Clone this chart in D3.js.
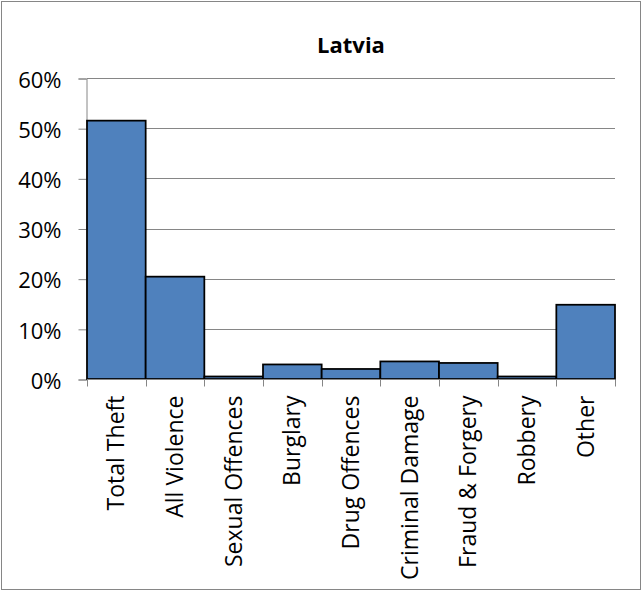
<!DOCTYPE html>
<html>
<head>
<meta charset="utf-8">
<script src="https://cdn.jsdelivr.net/npm/d3@7/dist/d3.min.js"></script>
<style>
  html, body { margin: 0; padding: 0; background: #fff; }
  svg { display: block; }
  text { font-family: "Open Sans", "Noto Sans", sans-serif; fill: #000; }
</style>
</head>
<body>
<script>
// Share of recorded offences by category
const categories = ["Total Theft", "All Violence", "Sexual Offences", "Burglary", "Drug Offences",
                    "Criminal Damage", "Fraud & Forgery", "Robbery", "Other"];
const values = [0.515, 0.204, 0.005, 0.029, 0.020, 0.035, 0.032, 0.005, 0.148];
const yTicks = [0, 0.1, 0.2, 0.3, 0.4, 0.5, 0.6];
const title = "Latvia";

const W = 643, H = 591;
const margin = { left: 87, right: 28, top: 78, bottom: 212 };

const svg = d3.select("body").append("svg").attr("width", W).attr("height", H);

// outer chart frame
svg.append("rect")
  .attr("x", 1.5).attr("y", 1.5).attr("width", W - 4).attr("height", H - 3)
  .attr("fill", "#fff").attr("stroke", "#868686").attr("stroke-width", 1);

const x = d3.scaleBand().domain(categories).range([margin.left, W - margin.right]).padding(0);
const y = d3.scaleLinear().domain([0, 0.6]).range([H - margin.bottom, margin.top]);

// horizontal gridlines
svg.append("g").selectAll("line").data(yTicks.filter(t => t > 0)).join("line")
  .attr("x1", margin.left).attr("x2", W - margin.right)
  .attr("y1", d => Math.round(y(d)) + 0.5).attr("y2", d => Math.round(y(d)) + 0.5)
  .attr("stroke", "#868686").attr("stroke-width", 1);

// y axis
const yAxis = svg.append("g")
  .attr("transform", `translate(${margin.left - 0.5},0.5)`)
  .call(d3.axisLeft(y).tickValues(yTicks).tickFormat(d3.format(".0%")).tickSize(8).tickPadding(17));
yAxis.select(".domain").attr("stroke", "#868686");
yAxis.selectAll(".tick line").attr("stroke", "#868686");
yAxis.selectAll(".tick text")
  .attr("font-size", 22)
  .attr("dy", "0.40em")
  .attr("fill", "#000");

// bars
svg.append("g").selectAll("rect").data(values).join("rect")
  .attr("x", (d, i) => x(categories[i]))
  .attr("y", d => y(d))
  .attr("width", x.bandwidth())
  .attr("height", d => y(0) - y(d))
  .attr("fill", "#4F81BD")
  .attr("stroke", "#000")
  .attr("stroke-width", 1.75);

// x axis with ticks at category boundaries
const xAxisG = svg.append("g").attr("transform", `translate(0,${Math.round(y(0)) + 0.5})`);
xAxisG.append("line")
  .attr("x1", margin.left).attr("x2", W - margin.right)
  .attr("stroke", "#868686");
const edges = categories.map(c => x(c)).concat([x(categories[categories.length - 1]) + x.bandwidth()]);
xAxisG.selectAll("line.tk").data(edges).join("line").attr("class", "tk")
  .attr("x1", d => Math.round(d) + 0.5).attr("x2", d => Math.round(d) + 0.5)
  .attr("y1", 0).attr("y2", 7)
  .attr("stroke", "#868686");
xAxisG.selectAll("text").data(categories).join("text")
  .attr("transform", d => `translate(${x(d) + x.bandwidth() / 2 + 8},16) rotate(-90)`)
  .attr("text-anchor", "end")
  .attr("font-size", 23)
  .text(d => d);

// title
svg.append("text")
  .attr("x", (margin.left + W - margin.right) / 2)
  .attr("y", 53)
  .attr("text-anchor", "middle")
  .attr("font-size", 22)
  .attr("font-weight", "bold")
  .text(title);
</script>
</body>
</html>
